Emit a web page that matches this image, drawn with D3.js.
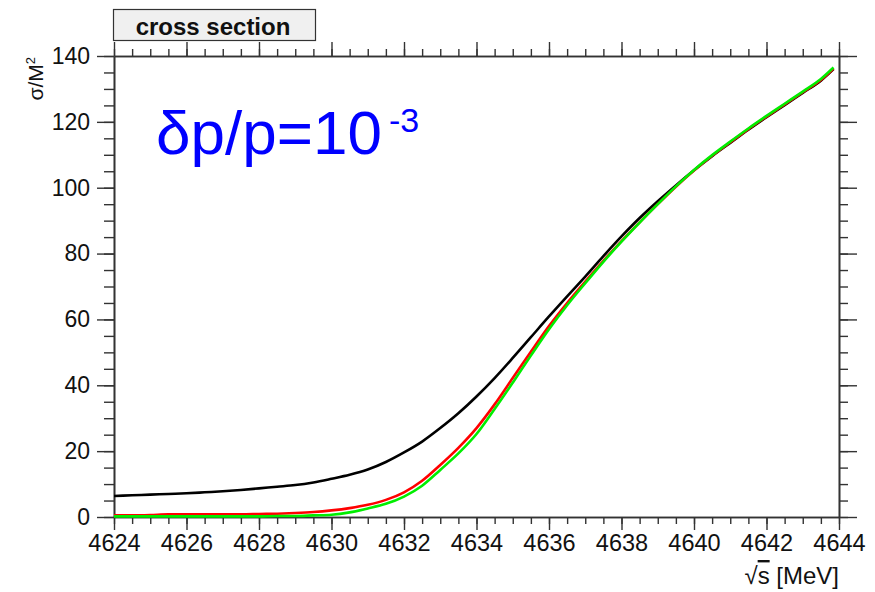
<!DOCTYPE html>
<html><head><meta charset="utf-8">
<script src="https://cdn.jsdelivr.net/npm/d3@7"></script>
<style>
html,body{margin:0;padding:0;background:#fff;}
svg{display:block;font-family:"Liberation Sans",Arial,Helvetica,sans-serif;}
</style></head>
<body><svg id="c" width="875" height="592"></svg>
<script>
// ---- data ----
const energy = [4624,4624.5,4625,4625.5,4626,4626.5,4627,4627.5,4628,4628.5,4629,4629.5,4630,4630.5,4631,4631.5,4632,4632.5,4633,4633.5,4634,4634.5,4635,4635.5,4636,4636.5,4637,4637.5,4638,4638.5,4639,4639.5,4640,4640.5,4641,4641.5,4642,4642.5,4643,4643.5,4643.85];
const sigmaBlack = [6.4,6.6,6.8,7.0,7.2,7.5,7.8,8.2,8.7,9.2,9.7,10.5,11.6,12.8,14.4,16.7,19.6,22.9,27.0,31.5,36.6,42.2,48.3,54.6,60.9,67.0,73.0,79.2,85.2,90.8,95.9,100.7,105.3,109.6,113.6,117.6,121.4,125.1,128.8,132.5,136.0];
const sigmaRed   = [0.5,0.5,0.6,0.8,0.8,0.8,0.8,0.8,0.9,1.0,1.2,1.5,2.0,2.7,3.7,5.2,7.5,11.0,15.8,21.0,27.0,34.2,42.2,50.2,58.0,65.0,71.5,77.8,83.8,89.5,95.0,100.3,105.2,109.7,113.8,117.8,121.6,125.3,129.0,132.7,136.2];
const sigmaGreen = [0.2,0.2,0.2,0.2,0.2,0.2,0.2,0.2,0.2,0.3,0.3,0.5,0.7,1.4,2.6,4.0,6.2,9.5,14.3,19.3,25.2,32.8,40.8,49.0,57.0,64.3,71.0,77.5,83.6,89.4,95.0,100.4,105.4,109.9,114.0,118.0,121.8,125.5,129.2,133.0,136.5];
const xTicks = [4624,4626,4628,4630,4632,4634,4636,4638,4640,4642,4644];
const yTicks = [0,20,40,60,80,100,120,140];
const series = [
  {name:"black", values:sigmaBlack, color:"#000000"},
  {name:"red", values:sigmaRed, color:"#ff0000"},
  {name:"green", values:sigmaGreen, color:"#00ee00"}
];

// ---- layout ----
const svg = d3.select("#c");
const L=114, R=839, T=56, B=517;
const x = d3.scaleLinear().domain([4624,4644]).range([L,R]);
const y = d3.scaleLinear().domain([0,140]).range([B,T]);
const axisColor = "#333";

function styleAxis(g){
  g.select(".domain").attr("stroke",axisColor).attr("stroke-width",1.6);
  g.selectAll(".tick line").attr("stroke",axisColor).attr("stroke-width",1.4);
}
const minorX = d3.range(4624,4644.01,0.5);
const minorY = d3.range(0,140.01,5);

// bottom axis
svg.append("g").attr("transform",`translate(0,${B})`)
  .call(d3.axisBottom(x).tickValues(minorX).tickSize(7).tickFormat("").tickSizeOuter(0)).call(styleAxis);
svg.append("g").attr("transform",`translate(0,${B})`)
  .call(d3.axisBottom(x).tickValues(xTicks).tickSize(13).tickPadding(4).tickFormat(d3.format("d")).tickSizeOuter(0))
  .call(styleAxis)
  .call(g=>g.selectAll("text").attr("font-size",23.5).attr("fill","#111").attr("font-family","Liberation Sans, Arial"));
// top axis
svg.append("g").attr("transform",`translate(0,${T})`)
  .call(d3.axisTop(x).tickValues(minorX).tickSize(7).tickFormat("").tickSizeOuter(0)).call(styleAxis);
svg.append("g").attr("transform",`translate(0,${T})`)
  .call(d3.axisTop(x).tickValues(xTicks).tickSize(14).tickFormat("").tickSizeOuter(0)).call(styleAxis);
// left axis
svg.append("g").attr("transform",`translate(${L},0)`)
  .call(d3.axisLeft(y).tickValues(minorY).tickSize(10).tickFormat("").tickSizeOuter(0)).call(styleAxis);
svg.append("g").attr("transform",`translate(${L},0)`)
  .call(d3.axisLeft(y).tickValues(yTicks).tickSize(17).tickPadding(7).tickSizeOuter(0))
  .call(styleAxis)
  .call(g=>g.selectAll("text").attr("font-size",23).attr("fill","#111").attr("font-family","Liberation Sans, Arial"));
// right axis
svg.append("g").attr("transform",`translate(${R},0)`)
  .call(d3.axisRight(y).tickValues(minorY).tickSize(9).tickFormat("").tickSizeOuter(0)).call(styleAxis);
svg.append("g").attr("transform",`translate(${R},0)`)
  .call(d3.axisRight(y).tickValues(yTicks).tickSize(18).tickFormat("").tickSizeOuter(0)).call(styleAxis);

// ---- curves ----
const line = d3.line().x((d,i)=>x(energy[i])).y(d=>y(d)).curve(d3.curveMonotoneX);
svg.append("g").selectAll("path").data(series).join("path")
  .attr("d",s=>line(s.values))
  .attr("fill","none").attr("stroke",s=>s.color).attr("stroke-width",2.6);

// ---- texts ----
// title box
svg.append("rect").attr("x",113.5).attr("y",9.5).attr("width",202).attr("height",31)
  .attr("fill","#f0f0f0").attr("stroke","#333").attr("stroke-width",1.2);
svg.append("text").attr("x",213).attr("y",35).attr("text-anchor","middle")
  .attr("font-size",24).attr("font-weight","bold").attr("fill","#111").text("cross section");

// annotation
const ann = svg.append("text").attr("x",156).attr("y",154).attr("fill","#0000ff").attr("font-size",62);
ann.append("tspan").text("δp/p=10");
ann.append("tspan").attr("font-size",34).attr("dx",7).attr("dy",-22).text("-3");

// y title
const yt = svg.append("text").attr("transform","translate(43,57) rotate(-90)")
  .attr("text-anchor","end").attr("font-size",21).attr("fill","#111");
yt.append("tspan").text("σ/M");
yt.append("tspan").attr("font-size",13).attr("dy",-8).text("2");

// x title
const xt = svg.append("text").attr("x",839).attr("y",584).attr("text-anchor","end")
  .attr("font-size",24).attr("fill","#111");
xt.append("tspan").text("√");
xt.append("tspan").attr("text-decoration","overline").text("s");
xt.append("tspan").text(" [MeV]");
</script></body></html>
